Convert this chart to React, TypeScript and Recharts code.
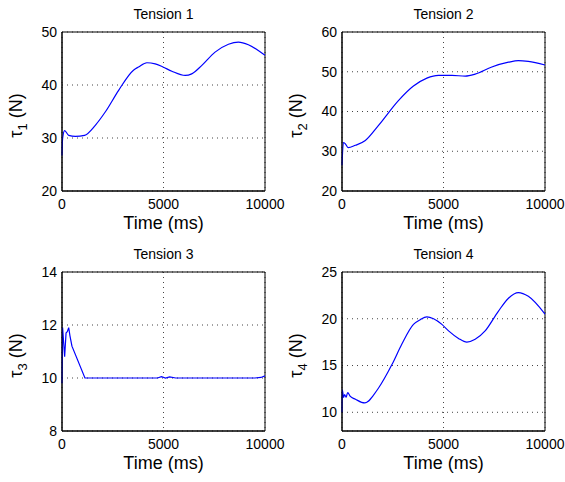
import React from "react";
import {
  CartesianGrid,
  Label,
  Line,
  LineChart,
  ReferenceArea,
  XAxis,
  YAxis,
} from "recharts";

// time stamps (ms) and tension values
const t1 = [0, 30, 130, 330, 660, 1110, 1640, 2130, 2790, 3520, 3770, 4180, 4590, 4970, 5410, 6070, 6390, 6890, 7540, 8200, 8690, 9180, 9670, 10000];
const tau1 = [26.7, 29.9, 31.4, 30.5, 30.3, 30.5, 32.4, 34.9, 39.0, 42.8, 43.4, 44.2, 44.0, 43.4, 42.6, 41.8, 42.1, 43.7, 46.2, 47.7, 48.1, 47.6, 46.5, 45.6];

const t2 = [0, 70, 160, 300, 660, 1150, 1800, 2790, 3520, 4180, 4750, 5410, 6070, 6560, 7380, 8200, 8690, 9180, 10000];
const tau2 = [26.5, 32.2, 31.9, 30.9, 31.5, 32.7, 36.5, 42.8, 46.4, 48.4, 49.1, 49.1, 48.9, 49.4, 51.2, 52.4, 52.8, 52.6, 51.7];

const t3 = [0, 30, 130, 200, 260, 330, 390, 490, 1130, 4700, 4900, 5100, 5300, 5600, 9500, 9800, 10000];
const tau3 = [9.8, 11.9, 10.8, 11.7, 11.75, 11.9, 11.6, 11.2, 10.0, 10.0, 10.05, 10.0, 10.04, 10.0, 10.0, 10.02, 10.08];

const t4 = [0, 15, 80, 130, 200, 280, 410, 660, 1110, 1800, 2460, 2950, 3520, 3850, 4180, 4510, 4920, 5250, 5740, 6150, 6560, 7050, 7700, 8200, 8690, 9180, 10000];
const tau4 = [10.0, 12.4, 11.6, 11.9, 11.6, 12.1, 11.7, 11.4, 11.0, 12.6, 15.1, 17.3, 19.4, 19.9, 20.2, 20.0, 19.4, 18.7, 17.9, 17.5, 17.8, 18.7, 20.8, 22.2, 22.8, 22.4, 20.5];

const timeTicks = [0, 5000, 10000];
const yTicks1 = [20, 30, 40, 50];
const yTicks2 = [20, 30, 40, 50, 60];
const yTicks3 = [8, 10, 12, 14];
const yTicks4 = [10, 15, 20, 25];

const titles = ["Tension 1", "Tension 2", "Tension 3", "Tension 4"];

const FONT = "'Liberation Sans', Arial, Helvetica, sans-serif";

type PanelProps = {
  title: string;
  index: number;
  times: number[];
  values: number[];
  domain: [number, number];
  ticks: number[];
  curve: "monotone" | "linear";
  left: number;
  top: number;
};

function Panel({ title, index, times, values, domain, ticks, curve, left, top }: PanelProps) {
  const data = times.map((t, i) => ({ t, v: values[i] }));

  // chart is wider than its cell so the "10000" tick label isn't clipped
  return (
    <div style={{ position: "absolute", left, top, width: 300, height: 240 }}>
      <div
        style={{
          position: "absolute",
          left: 62,
          top: 6,
          width: 203,
          textAlign: "center",
          fontSize: 14,
          lineHeight: "16px",
          color: "#000",
        }}
      >
        {title}
      </div>
      <LineChart
        width={300}
        height={240}
        data={data}
        margin={{ top: 32, right: 35, bottom: 0, left: 0 }}
      >
        <CartesianGrid stroke="#444" strokeDasharray="1 4" />
        <XAxis
          dataKey="t"
          type="number"
          domain={[0, 10000]}
          ticks={timeTicks}
          height={49}
          tickLine={false}
          tickSize={0}
          tickMargin={8}
          axisLine={{ stroke: "#000" }}
          tick={{ fill: "#000", fontSize: 14 }}
          interval={0}
        >
          <Label
            content={({ viewBox }: any) => (
              <text
                x={viewBox.x + viewBox.width / 2}
                y={viewBox.y + 38}
                textAnchor="middle"
                fontSize={18}
                fill="#000"
              >
                Time (ms)
              </text>
            )}
          />
        </XAxis>
        <YAxis
          type="number"
          domain={domain}
          ticks={ticks}
          width={62}
          tickLine={false}
          tickSize={0}
          tickMargin={5}
          axisLine={{ stroke: "#000" }}
          tick={{ fill: "#000", fontSize: 14 }}
          interval={0}
          allowDataOverflow
        >
          <Label
            content={({ viewBox }: any) => {
              const x = viewBox.x + 22;
              const y = viewBox.y + viewBox.height / 2 + 4;
              return (
                <text
                  x={x}
                  y={y}
                  transform={`rotate(-90, ${x}, ${y})`}
                  textAnchor="middle"
                  fontSize={18}
                  fill="#000"
                >
                  τ
                  <tspan fontSize={13} dy={5}>
                    {index}
                  </tspan>
                  <tspan dy={-5}> (N)</tspan>
                </text>
              );
            }}
          />
        </YAxis>
        <ReferenceArea
          x1={0}
          x2={10000}
          y1={domain[0]}
          y2={domain[1]}
          fill="none"
          stroke="#000"
          strokeWidth={1}
        />
        <Line
          type={curve}
          dataKey="v"
          stroke="#0000ff"
          strokeWidth={1.2}
          dot={false}
          isAnimationActive={false}
        />
      </LineChart>
    </div>
  );
}

export default function App() {
  return (
    <div
      style={{
        position: "fixed",
        left: 0,
        top: 0,
        width: 565,
        height: 482,
        background: "#fff",
        fontFamily: FONT,
        overflow: "hidden",
      }}
    >
      <Panel title={titles[0]} index={1} times={t1} values={tau1} domain={[20, 50]} ticks={yTicks1} curve="monotone" left={0} top={0} />
      <Panel title={titles[1]} index={2} times={t2} values={tau2} domain={[20, 60]} ticks={yTicks2} curve="monotone" left={280} top={0} />
      <Panel title={titles[2]} index={3} times={t3} values={tau3} domain={[8, 14]} ticks={yTicks3} curve="linear" left={0} top={240} />
      <Panel title={titles[3]} index={4} times={t4} values={tau4} domain={[8, 25]} ticks={yTicks4} curve="monotone" left={280} top={240} />
    </div>
  );
}
